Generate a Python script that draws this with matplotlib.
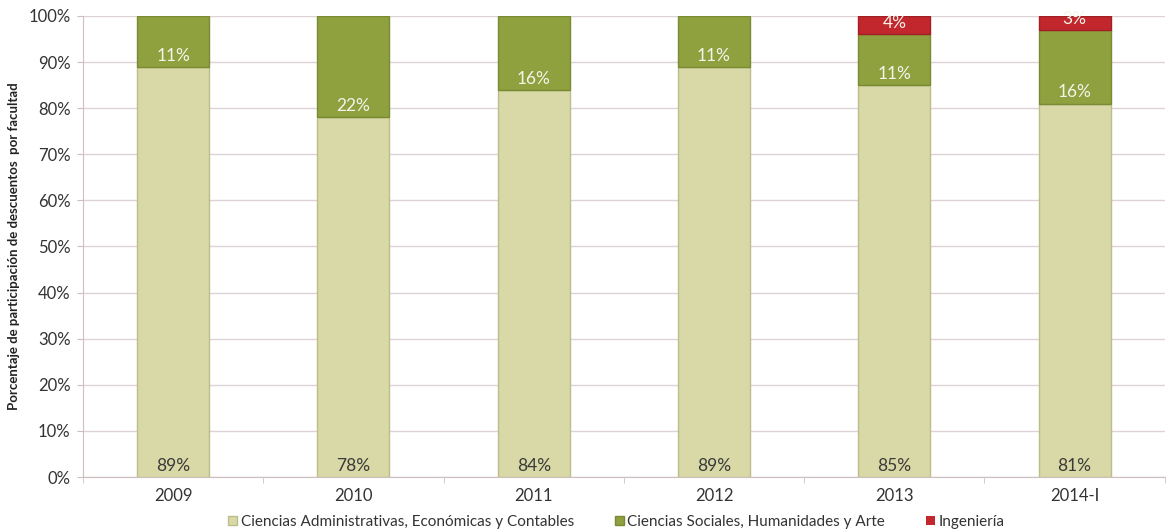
import matplotlib.pyplot as plt
import numpy as np
from matplotlib.ticker import PercentFormatter

plt.rcParams['font.family'] = ['Lato', 'DejaVu Sans']

years = ['2009', '2010', '2011', '2012', '2013', '2014-I']
admin = [89, 78, 84, 89, 85, 81]
social = [11, 22, 16, 11, 11, 16]
ing = [0, 0, 0, 0, 4, 3]

series_names = ['Ciencias Administrativas, Económicas y Contables',
                'Ciencias Sociales, Humanidades y Arte',
                'Ingeniería']
colors = ['#d8d9a6', '#8fa03f', '#c1272d']
edges = ['#bcbd88', '#7a8a33', '#a11f25']
label_colors = ['#3a3a3a', '#f4f4ea', '#f4f4ea']
axis_col = '#cdbfbf'

fig = plt.figure(figsize=(11.72, 5.30), dpi=100)
ax = fig.add_axes([0.0708, 0.1, 0.923, 0.87])

x = np.arange(len(years))
bottom = np.zeros(len(years))
handles = []
for vals, name, c, ec, lc in zip([admin, social, ing], series_names, colors, edges, label_colors):
    vals = np.array(vals, dtype=float)
    # no outline on empty segments
    lw = [1 if v > 0 else 0 for v in vals]
    bars = ax.bar(x, vals, 0.4, bottom=bottom, color=c, edgecolor=ec, linewidth=lw,
                  label=name, zorder=3)
    handles.append(bars)
    for xi, b, v in zip(x, bottom, vals):
        if v > 0:
            t = ax.annotate(f'{int(v)}%', (xi, b), xytext=(0, 8), textcoords='offset points',
                            ha='center', va='center', color=lc, fontsize=12.5, zorder=4)
            t.set_clip_on(True)
    bottom += vals

ax.set_xlim(-0.5, len(years) - 0.5)
ax.set_ylim(0, 100)
ax.set_yticks(np.arange(0, 101, 10))
ax.yaxis.set_major_formatter(PercentFormatter(decimals=0))
ax.set_xticks(x)
ax.set_xticklabels(years)
ax.set_xticks(np.arange(-0.5, len(years), 1), minor=True)
ax.tick_params(axis='x', which='major', length=0, labelsize=12, pad=8, labelcolor='#333333')
ax.tick_params(axis='x', which='minor', length=4, color=axis_col)
ax.tick_params(axis='y', length=4, color=axis_col, labelsize=12, pad=5, labelcolor='#333333')
ax.grid(axis='y', color='#ddd3d3', linewidth=1, zorder=0)
for s in ['top', 'right']:
    ax.spines[s].set_visible(False)
ax.spines['bottom'].set_color(axis_col)
ax.spines['left'].set_color(axis_col)

ax.set_ylabel('Porcentaje de participación de descuentos  por facultad', fontsize=9.5,
              fontweight='bold', labelpad=6, color='#222222')

fig.legend(handles=handles, labels=series_names, loc='center', ncol=3, frameon=False,
           fontsize=11, handlelength=0.55, handleheight=0.55, handletextpad=0.25,
           columnspacing=2.7, bbox_to_anchor=(0.526, 0.015), labelcolor='#333333')

fig.savefig('out.png', dpi=100)
